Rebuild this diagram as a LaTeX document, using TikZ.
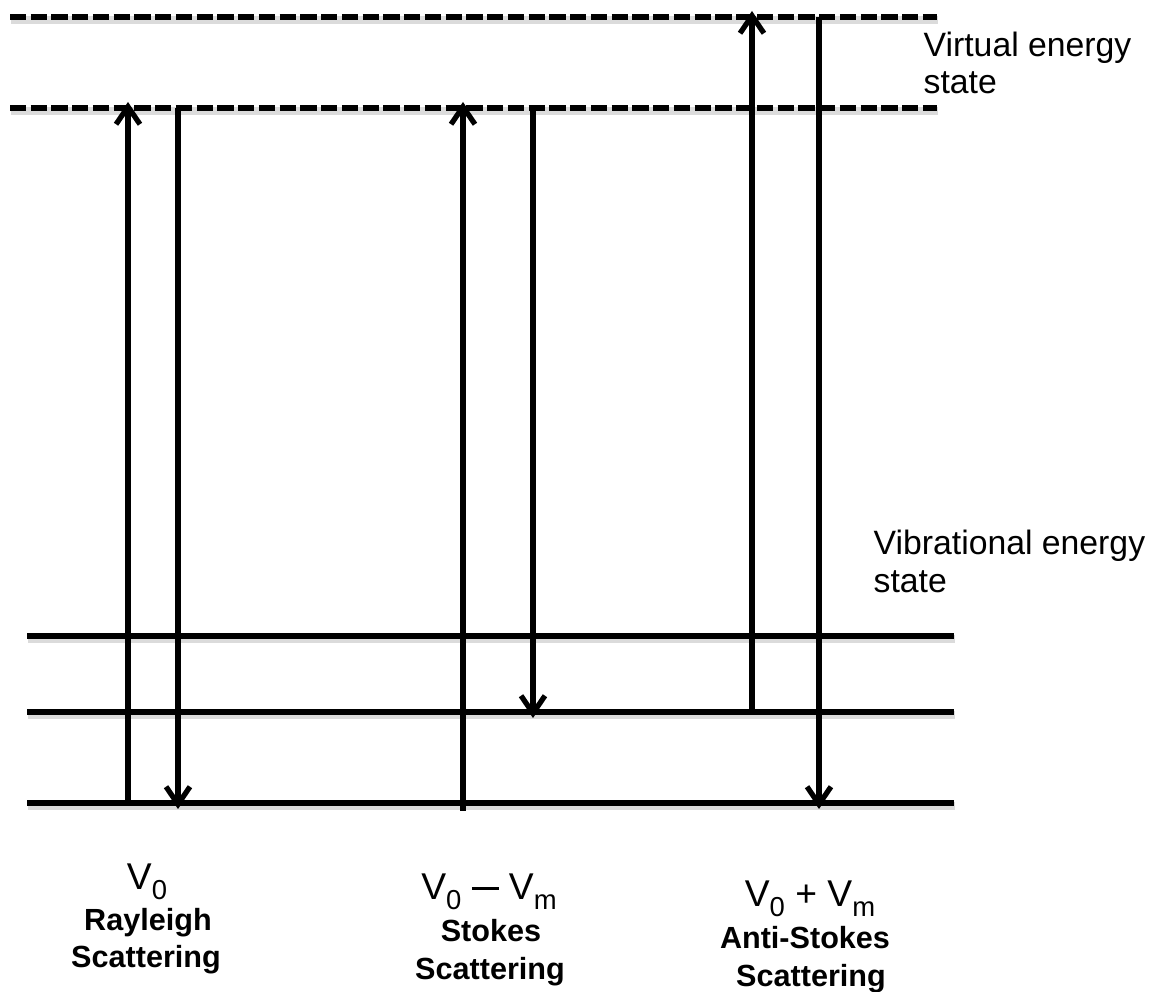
\documentclass[tikz,border=0pt]{standalone}
\usepackage{fontspec}
\setmainfont{Liberation Sans}
\usetikzlibrary{arrows.meta}

\newcommand{\lowidx}[1]{\raisebox{-2.6pt}{\fontsize{7.8}{8}\selectfont #1}}
\newcommand{\minusbar}{\rule[0.27em]{0.72em}{0.09em}}

\tikzset{
  level/.style={line width=1.55pt,
    preaction={draw=black!14, line width=2.2pt, transform canvas={shift={(0.4pt,-0.8pt)}}}},
  virtual/.style={level, dash pattern=on 4.6pt off 1.3pt},
  trans/.style={line width=1.5pt, -{Straight Barb[length=5pt,width=6.8pt]}},
  statelabel/.style={anchor=base west, inner sep=0pt, font=\fontsize{9.6}{11}\selectfont},
  freq/.style={anchor=base, inner sep=0pt, font=\fontsize{10.6}{12}\selectfont},
  kind/.style={anchor=base, inner sep=0pt, font=\bfseries\fontsize{8.7}{10}\selectfont},
}

\begin{document}
\begin{tikzpicture}[x=0.01cm, y=-0.01cm]
\useasboundingbox (0,0) rectangle (1154,992);

% Virtual states
\draw[virtual] (10,17) -- (937,17);
\draw[virtual] (10,108) -- (937,108);

\node[statelabel] (vs1) at (923,57) {Virtual energy};
\node[statelabel] (vs2) at (923,94) {state};

% Vibrational states
\draw[level] (27,636) -- (954,636);
\draw[level] (27,712) -- (954,712);
\draw[level] (27,803) -- (954,803);

\node[statelabel] (vb1) at (873,555) {Vibrational energy};
\node[statelabel] (vb2) at (873,593) {state};

% Rayleigh
\coordinate (r1) at (128,803);
\coordinate (r2) at (128,102);
\coordinate (r3) at (178,108);
\coordinate (r4) at (178,809);

\draw[trans] (r1)--(r2);
\draw[trans] (r3)--(r4);

\node[freq] (rf) at (147,890) {V\lowidx{0}};
\node[kind] (rk1) at (148,931) {Rayleigh};
\node[kind] (rk2) at (146,968) {Scattering};


% Stokes
\coordinate (s1) at (463,811);
\coordinate (s2) at (463,102);
\coordinate (s3) at (533,108);
\coordinate (s4) at (533,718);

\draw[trans] (s1)--(s2);
\draw[trans] (s3)--(s4);

\node[freq] (sf) at (489,900) {V\lowidx{0} \minusbar\ V\lowidx{m}};
\node[kind] (sk1) at (491,942) {Stokes};
\node[kind] (sk2) at (490,980) {Scattering};


% Anti-Stokes
\coordinate (a1) at (752,712);
\coordinate (a2) at (752,11);
\coordinate (a3) at (819,17);
\coordinate (a4) at (819,809);

\draw[trans] (a1)--(a2);
\draw[trans] (a3)--(a4);

\node[freq] (af) at (810,907) {V\lowidx{0} + V\lowidx{m}};
\node[kind] (ak1) at (805,949) {Anti-Stokes};
\node[kind] (ak2) at (811,987) {Scattering};

\end{tikzpicture}
\end{document}
